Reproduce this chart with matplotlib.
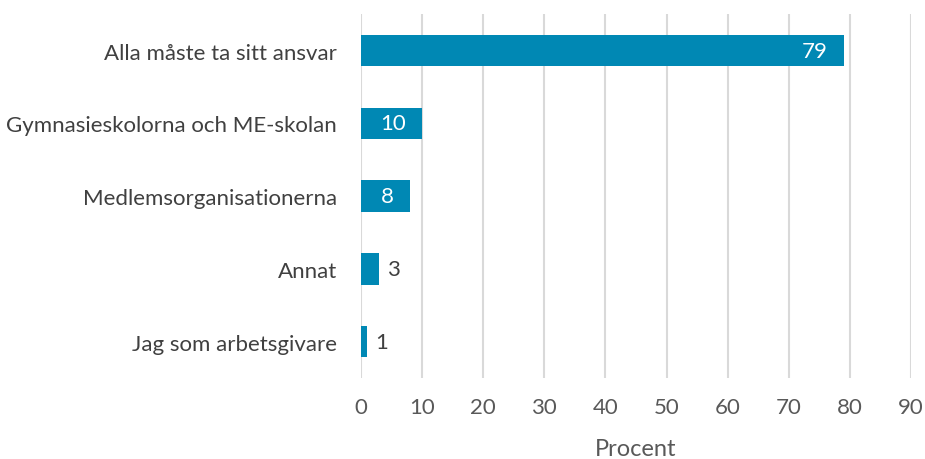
import matplotlib.pyplot as plt

categories = ["Alla måste ta sitt ansvar", "Gymnasieskolorna och ME-skolan",
              "Medlemsorganisationerna", "Annat", "Jag som arbetsgivare"]
values = [79, 10, 8, 3, 1]
xticks = [0, 10, 20, 30, 40, 50, 60, 70, 80, 90]

plt.rcParams['font.family'] = ['Lato', 'DejaVu Sans']

fig = plt.figure(figsize=(9.25, 4.6), dpi=100)
ax = fig.add_axes([0.390, 0.176, 0.595, 0.791])

pos = list(range(len(categories)))[::-1]
bars = ax.barh(pos, values, height=0.43, color='#0088B4', zorder=3)

for b, v in zip(bars, values):
    y = b.get_y() + b.get_height() / 2
    if v >= 5:
        ax.annotate(str(v), (v, y), xytext=(-11.5, 0), textcoords='offset points',
                    ha='right', va='center', color='white', fontsize=16)
    else:
        ax.annotate(str(v), (v, y), xytext=(6, 0), textcoords='offset points',
                    ha='left', va='center', color='#404040', fontsize=16)

ax.set_xlim(0, 90)
ax.set_ylim(-0.5, len(categories) - 0.5)
ax.set_xticks(xticks)
ax.set_yticks(pos)
ax.set_yticklabels(categories)
ax.tick_params(axis='both', length=0, labelsize=16, colors='#595959')
ax.tick_params(axis='y', pad=17, labelcolor='#404040')
ax.tick_params(axis='x', pad=14)
ax.grid(axis='x', color='#d9d9d9', linewidth=1.5, zorder=0)
for s in ax.spines.values():
    s.set_visible(False)
ax.set_xlabel("Procent", fontsize=17, color='#595959', labelpad=15)

fig.savefig("out.png", dpi=100, facecolor='white')
